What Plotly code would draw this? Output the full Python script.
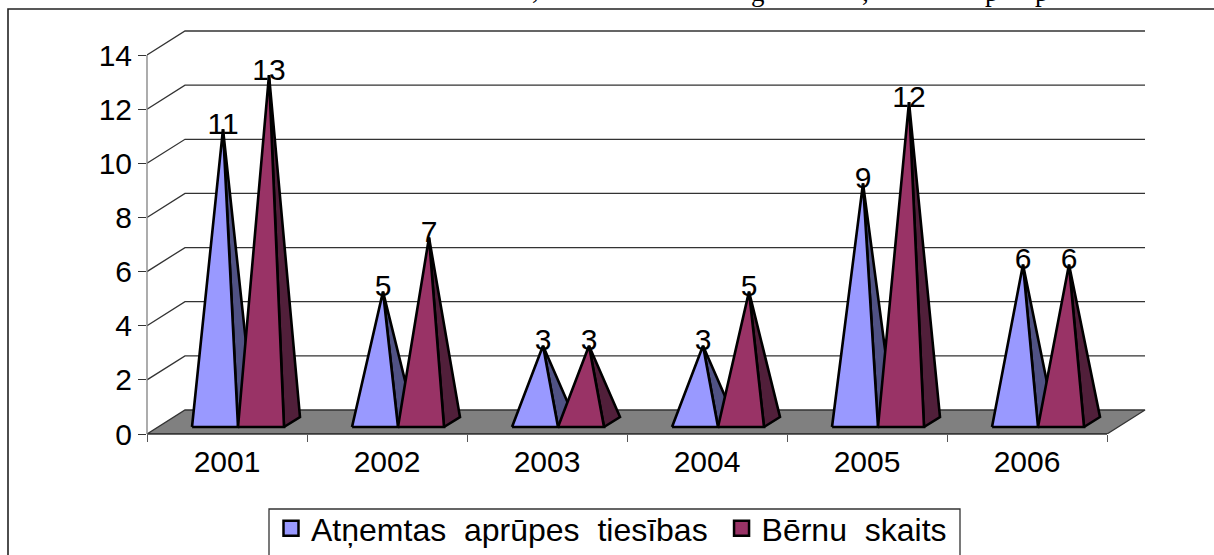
import plotly.graph_objects as go

years = ["2001", "2002", "2003", "2004", "2005", "2006"]
series_names = ["Atņemtas\u00a0\u00a0aprūpes\u00a0\u00a0tiesības", "Bērnu\u00a0\u00a0skaits"]
atnemtas = [11, 5, 3, 3, 9, 6]
berni = [13, 7, 3, 5, 12, 6]
y_ticks = [0, 2, 4, 6, 8, 10, 12, 14]

W, H = 1214, 555
L, R, T, B = 147, 64, 28, 121
PX_X = 160.0    # px per category
PX_Y = 27.07    # px per value unit
FONT = "Liberation Sans"
FS = 30

def ux(px): return px / PX_X
def uy(px): return px / PX_Y
def px_to_paper_x(px): return (px - L) / (W - L - R)
def px_to_paper_y(py): return (H - B - py) / (H - T - B)

x_lo, x_hi = -0.5, -0.5 + ux(W - L - R)
y_lo, y_hi = 0, uy(H - T - B)

depth_x, depth_y = ux(38), uy(24)
half = ux(23)
shift = ux(11)
base_y = uy(7)
pyr_dx, pyr_dy = ux(16), uy(10)

fig = go.Figure()

# floor
fig.add_trace(go.Scatter(
    x=[-0.5, -0.5 + depth_x, 5.5 + depth_x, 5.5, -0.5],
    y=[0, depth_y, depth_y, 0, 0], mode="lines", fill="toself",
    fillcolor="#808080", line=dict(color="#333333", width=1.3),
    showlegend=False, hoverinfo="skip"))

# back wall and side wall grid
for v in y_ticks[1:]:
    fig.add_trace(go.Scatter(
        x=[-0.5, -0.5 + depth_x, 5.5 + depth_x],
        y=[v, v + depth_y, v + depth_y], mode="lines",
        line=dict(color="#333333", width=1.3),
        showlegend=False, hoverinfo="skip"))

colors = [("#9999FF", "#505284"), ("#993366", "#511F3A")]

for i in range(6):
    for s, vals in enumerate([atnemtas, berni]):
        front, side = colors[s]
        x0 = i + shift - 2 * half + s * 2 * half
        x1 = x0 + 2 * half
        apex_x = (x0 + x1) / 2 + pyr_dx / 2
        apex_y = vals[i] + base_y
        fig.add_trace(go.Scatter(
            x=[x1, x1 + pyr_dx, apex_x, x1], y=[base_y, base_y + pyr_dy, apex_y, base_y],
            mode="lines", fill="toself", fillcolor=side,
            line=dict(color="#000000", width=2.6), showlegend=False, hoverinfo="skip"))
        fig.add_trace(go.Scatter(
            x=[x0, x1, apex_x, x0], y=[base_y, base_y, apex_y, base_y],
            mode="lines", fill="toself", fillcolor=front,
            line=dict(color="#000000", width=2.6), showlegend=False, hoverinfo="skip"))

for s, vals in enumerate([atnemtas, berni]):
    xs = [i + shift - 2 * half + s * 2 * half + half + pyr_dx / 2 for i in range(6)]
    fig.add_trace(go.Scatter(
        x=xs, y=[v + base_y + uy(3) for v in vals], mode="text",
        text=[str(v) for v in vals], textposition="middle center",
        textfont=dict(family=FONT, size=FS, color="#000000"),
        showlegend=False, hoverinfo="skip", cliponaxis=False))

for s, name in enumerate(series_names):
    fig.add_trace(go.Scatter(
        x=[None], y=[None], mode="markers",
        name=name + ("\u00a0" if s == 0 else ""),
        marker=dict(symbol="square", size=15, color=colors[s][0],
                    line=dict(color="#000000", width=2.5))))

# text clipped at the top edge of the page: only descenders are visible
for ch, px, up in [(",", 535, 2), ("g", 758, 0), (",", 865, 0), ("p", 992, 0), ("p", 1042, 0)]:
    fig.add_annotation(text=ch, xref="paper", yref="paper",
                       x=px_to_paper_x(px), y=px_to_paper_y(-8 - up),
                       xanchor="center", yanchor="middle", showarrow=False,
                       font=dict(family="Liberation Serif", size=27, color="#000000"))

fig.update_layout(
    width=W, height=H, margin=dict(l=L, r=R, t=T, b=B, pad=0, autoexpand=False),
    paper_bgcolor="#FFFFFF", plot_bgcolor="rgba(0,0,0,0)",
    font=dict(family=FONT, size=FS, color="#000000"),
    legend=dict(orientation="h", x=px_to_paper_x(271), y=px_to_paper_y(501),
                xanchor="left", yanchor="top", bgcolor="rgba(0,0,0,0)",
                borderwidth=0, font=dict(family=FONT, size=32, color="#000000")),
    shapes=[
        dict(type="rect", xref="paper", yref="paper",
             x0=px_to_paper_x(8), x1=px_to_paper_x(W + 20),
             y0=px_to_paper_y(H + 20), y1=px_to_paper_y(9),
             line=dict(color="#222222", width=1.6), layer="below"),
        dict(type="rect", xref="paper", yref="paper",
             x0=px_to_paper_x(269), x1=px_to_paper_x(960),
             y0=px_to_paper_y(H + 20), y1=px_to_paper_y(509),
             line=dict(color="#333333", width=1.3), fillcolor="#FFFFFF", layer="below"),
        dict(type="line", xref="x", yref="paper", x0=-0.5, x1=5.5, y0=0, y1=0,
             line=dict(color="#333333", width=1.3)),
        dict(type="line", xref="paper", yref="y", x0=0, x1=0, y0=0, y1=14,
             line=dict(color="#808080", width=1.3)),
    ],
)
fig.update_xaxes(range=[x_lo, x_hi], tickmode="array", tickvals=list(range(6)), ticktext=years,
                 showgrid=False, zeroline=False, showline=False,
                 ticks="", tickfont=dict(family=FONT, size=FS), ticklabelstandoff=7,
                 minor=dict(tickmode="array", tickvals=[i - 0.5 for i in range(7)],
                            ticks="outside", ticklen=7, tickcolor="#555555", tickwidth=1.2, showgrid=False))
fig.update_yaxes(range=[y_lo, y_hi], tickmode="array", tickvals=y_ticks,
                 showgrid=False, zeroline=False, showline=False,
                 ticks="outside", ticklen=8, tickcolor="#333333", tickwidth=1.2,
                 tickfont=dict(family=FONT, size=FS))

fig.write_html("out.html", config={"displayModeBar": False},
               post_script="document.body.style.margin='0';")
